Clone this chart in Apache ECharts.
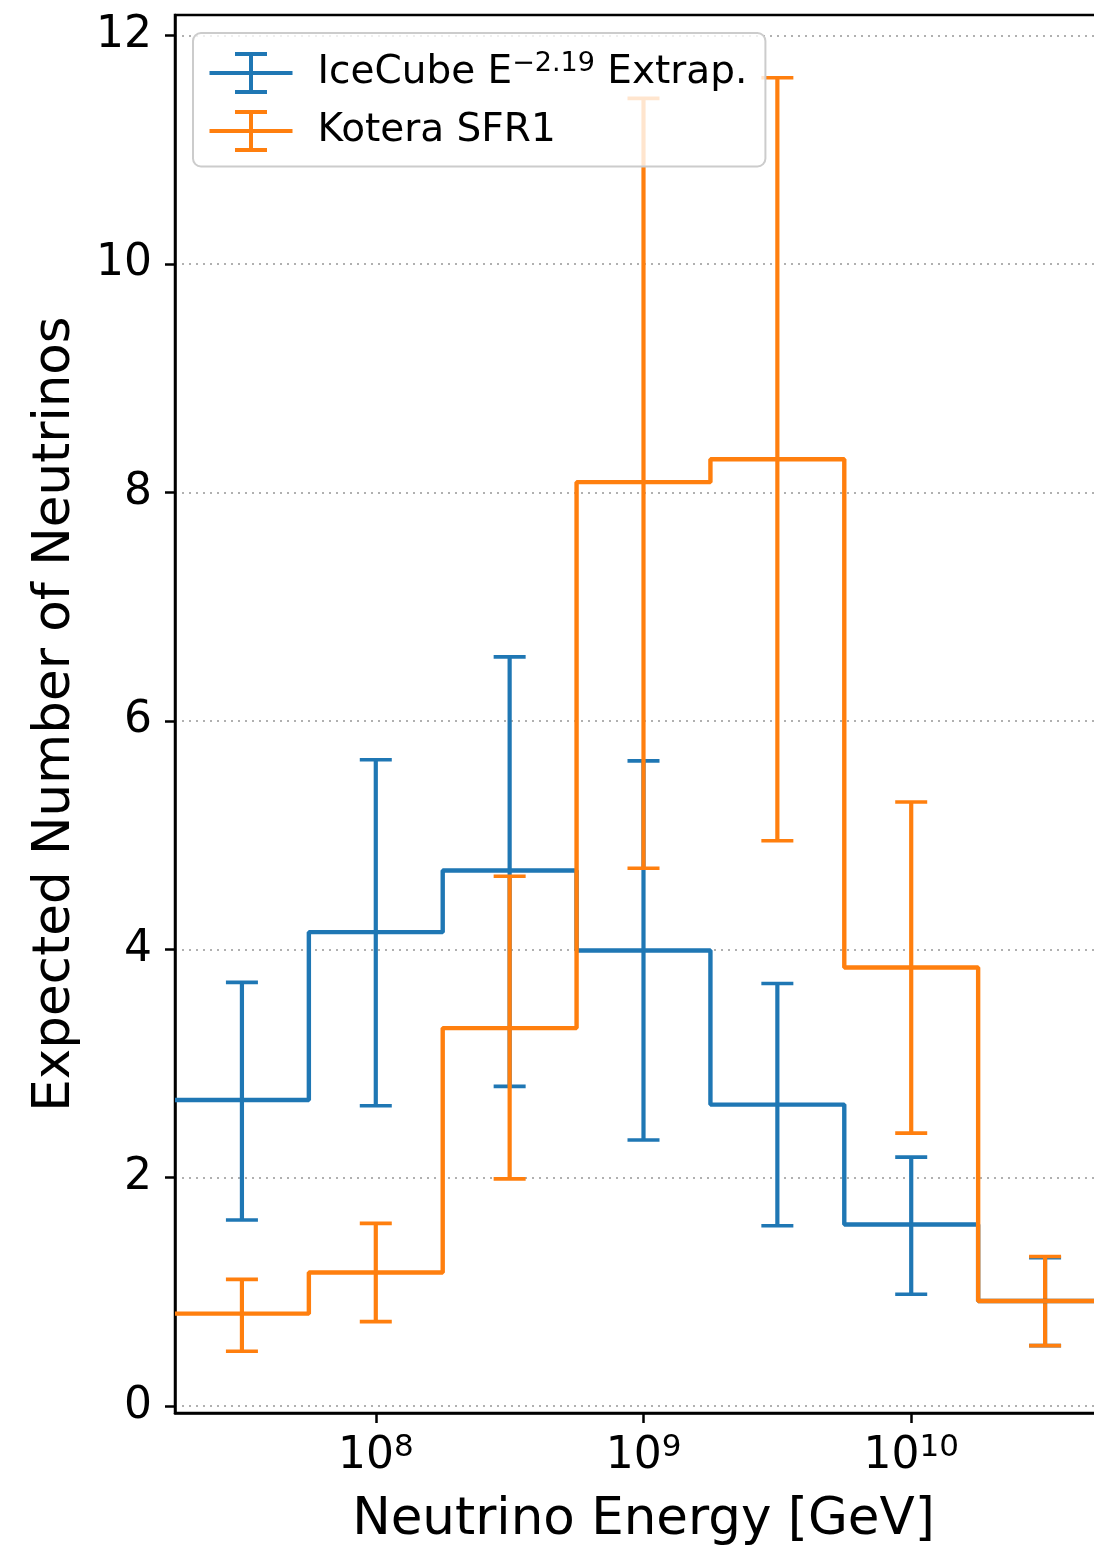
<!DOCTYPE html>
<html><head><meta charset="utf-8">
<script src="https://cdn.jsdelivr.net/npm/echarts@6/dist/echarts.min.js"></script>
<style>html,body{margin:0;padding:0;background:#fff}#c{width:1094px;height:1555px}</style>
</head><body><div id="c"></div>
<script>
// Bin edges and centres (GeV), half-decade bins
const binEdges = [1.7783e7, 5.6234e7, 1.7783e8, 5.6234e8, 1.7783e9, 5.6234e9, 1.7783e10, 5.6234e10];
const binCenters = [3.1623e7, 1e8, 3.1623e8, 1e9, 3.1623e9, 1e10, 3.1623e10];

// IceCube E^-2.19 extrapolation
const blueValues = [2.68, 4.15, 4.69, 3.99, 2.64, 1.59, 0.92];
const blueLow    = [1.63, 2.63, 2.80, 2.33, 1.58, 0.98, 0.53];
const blueHigh   = [3.71, 5.66, 6.56, 5.65, 3.70, 2.18, 1.30];

// Kotera SFR1
const orangeValues = [0.81, 1.17, 3.31, 8.09, 8.29, 3.84, 0.92];
const orangeLow    = [0.48, 0.74, 1.99, 4.71, 4.95, 2.39, 0.53];
const orangeHigh   = [1.11, 1.60, 4.64, 11.45, 11.63, 5.29, 1.31];

const xTicks = [1e8, 1e9, 1e10];
const yTicks = [0, 2, 4, 6, 8, 10, 12];

const nameBlue = 'IceCube E−2.19 Extrap.';
const nameOrange = 'Kotera SFR1';
const BLUE = '#1f77b4', ORANGE = '#ff7f0e';
const FF = 'DejaVu Sans';

function stepData(vals) {
  return binEdges.map((e, i) => [e, vals[Math.min(i, vals.length - 1)]]);
}
function errData(lo, hi) {
  return binCenters.map((x, i) => [x, lo[i], hi[i]]);
}
function errRender(color) {
  return function (params, api) {
    const x = api.value(0), lo = api.value(1), hi = api.value(2);
    const a = api.coord([x, lo]), b = api.coord([x, hi]);
    const w = 16;
    const st = { stroke: color, lineWidth: 4.2, fill: null };
    const cs = { stroke: color, lineWidth: 3.6, fill: null };
    return { type: 'group', children: [
      { type: 'line', shape: { x1: a[0], y1: a[1], x2: b[0], y2: b[1] }, style: st },
      { type: 'line', shape: { x1: a[0] - w, y1: a[1], x2: a[0] + w, y2: a[1] }, style: cs },
      { type: 'line', shape: { x1: b[0] - w, y1: b[1], x2: b[0] + w, y2: b[1] }, style: cs }
    ]};
  };
}
const errIcon = 'path://M0,19 L83,19 M41.5,0 L41.5,38 M25.5,0 L57.5,0 M25.5,38 L57.5,38';

const chart = echarts.init(document.getElementById('c'), null, { renderer: 'canvas' });
chart.setOption({
  animation: false,
  backgroundColor: '#ffffff',
  grid: { left: 175, top: 15, width: 937, height: 1398, show: true, borderColor: '#000', borderWidth: 2.5,
          backgroundColor: 'transparent', containLabel: false, outerBoundsMode: 'none' },
  xAxis: {
    type: 'log', logBase: 10, min: binEdges[0], max: binEdges[binEdges.length - 1],
    axisLine: { show: true, onZero: false, lineStyle: { color: '#000', width: 2.5 } },
    axisTick: { show: true, length: 10, lineStyle: { color: '#000', width: 2.5 }, customValues: xTicks },
    minorTick: { show: false }, splitLine: { show: false },
    axisLabel: {
      customValues: xTicks, margin: 19,
      formatter: v => '{b|10}{s|' + Math.round(Math.log10(v)) + '}',
      rich: {
        b: { fontSize: 44, fontFamily: FF, color: '#000', lineHeight: 50 },
        s: { fontSize: 31, fontFamily: FF, color: '#000', verticalAlign: 'top', lineHeight: 28 }
      }
    },
    name: 'Neutrino Energy [GeV]', nameLocation: 'middle', nameGap: 82, nameMoveOverlap: false,
    nameTextStyle: { fontSize: 51.5, fontFamily: FF, color: '#000' }
  },
  yAxis: {
    type: 'value', min: -0.06, max: 12.18,
    axisLine: { show: true, onZero: false, lineStyle: { color: '#000', width: 2.5 } },
    axisTick: { show: true, length: 10, lineStyle: { color: '#000', width: 2.5 }, customValues: yTicks },
    axisLabel: { customValues: yTicks, margin: 23, fontSize: 44, fontFamily: FF, color: '#000' },
    splitLine: { show: true, lineStyle: { color: '#b0b0b0', width: 2, type: [2, 5] } },
    name: 'Expected Number of Neutrinos', nameLocation: 'middle', nameGap: 93, nameMoveOverlap: false,
    nameTextStyle: { fontSize: 51.5, fontFamily: FF, color: '#000' }
  },
  legend: {
    orient: 'vertical', left: 193, top: 33, padding: [17, 18, 14, 14], itemGap: 15,
    itemWidth: 83, itemHeight: 38, selectedMode: false,
    backgroundColor: 'rgba(255,255,255,0.8)', borderColor: '#cccccc', borderWidth: 2, borderRadius: 8,
    data: [
      { name: nameBlue, icon: errIcon, itemStyle: { color: 'none', borderColor: BLUE, borderWidth: 4 } },
      { name: nameOrange, icon: errIcon, itemStyle: { color: 'none', borderColor: ORANGE, borderWidth: 4 } }
    ],
    formatter: n => n === nameBlue ? '{t|IceCube E}{s|−2.19}{t| Extrap.}' : '{t|' + n + '}',
    textStyle: {
      fontSize: 39, fontFamily: FF, color: '#000', padding: [0, 0, 0, 20],
      rich: {
        t: { fontSize: 39, fontFamily: FF, color: '#000', lineHeight: 46 },
        s: { fontSize: 27, fontFamily: FF, color: '#000', verticalAlign: 'top', lineHeight: 24 }
      }
    }
  },
  series: [
    { name: nameBlue, type: 'custom', renderItem: errRender(BLUE), data: errData(blueLow, blueHigh),
      encode: { x: 0, y: [1, 2] }, itemStyle: { color: BLUE }, silent: true, z: 2 },
    { name: nameBlue, type: 'line', step: 'end', data: stepData(blueValues), symbol: 'none',
      lineStyle: { color: BLUE, width: 4.4 }, itemStyle: { color: BLUE }, silent: true, z: 2 },
    { name: nameOrange, type: 'custom', renderItem: errRender(ORANGE), data: errData(orangeLow, orangeHigh),
      encode: { x: 0, y: [1, 2] }, itemStyle: { color: ORANGE }, silent: true, z: 2 },
    { name: nameOrange, type: 'line', step: 'end', data: stepData(orangeValues), symbol: 'none',
      lineStyle: { color: ORANGE, width: 4.4 }, itemStyle: { color: ORANGE }, silent: true, z: 2 }
  ]
});
</script></body></html>
